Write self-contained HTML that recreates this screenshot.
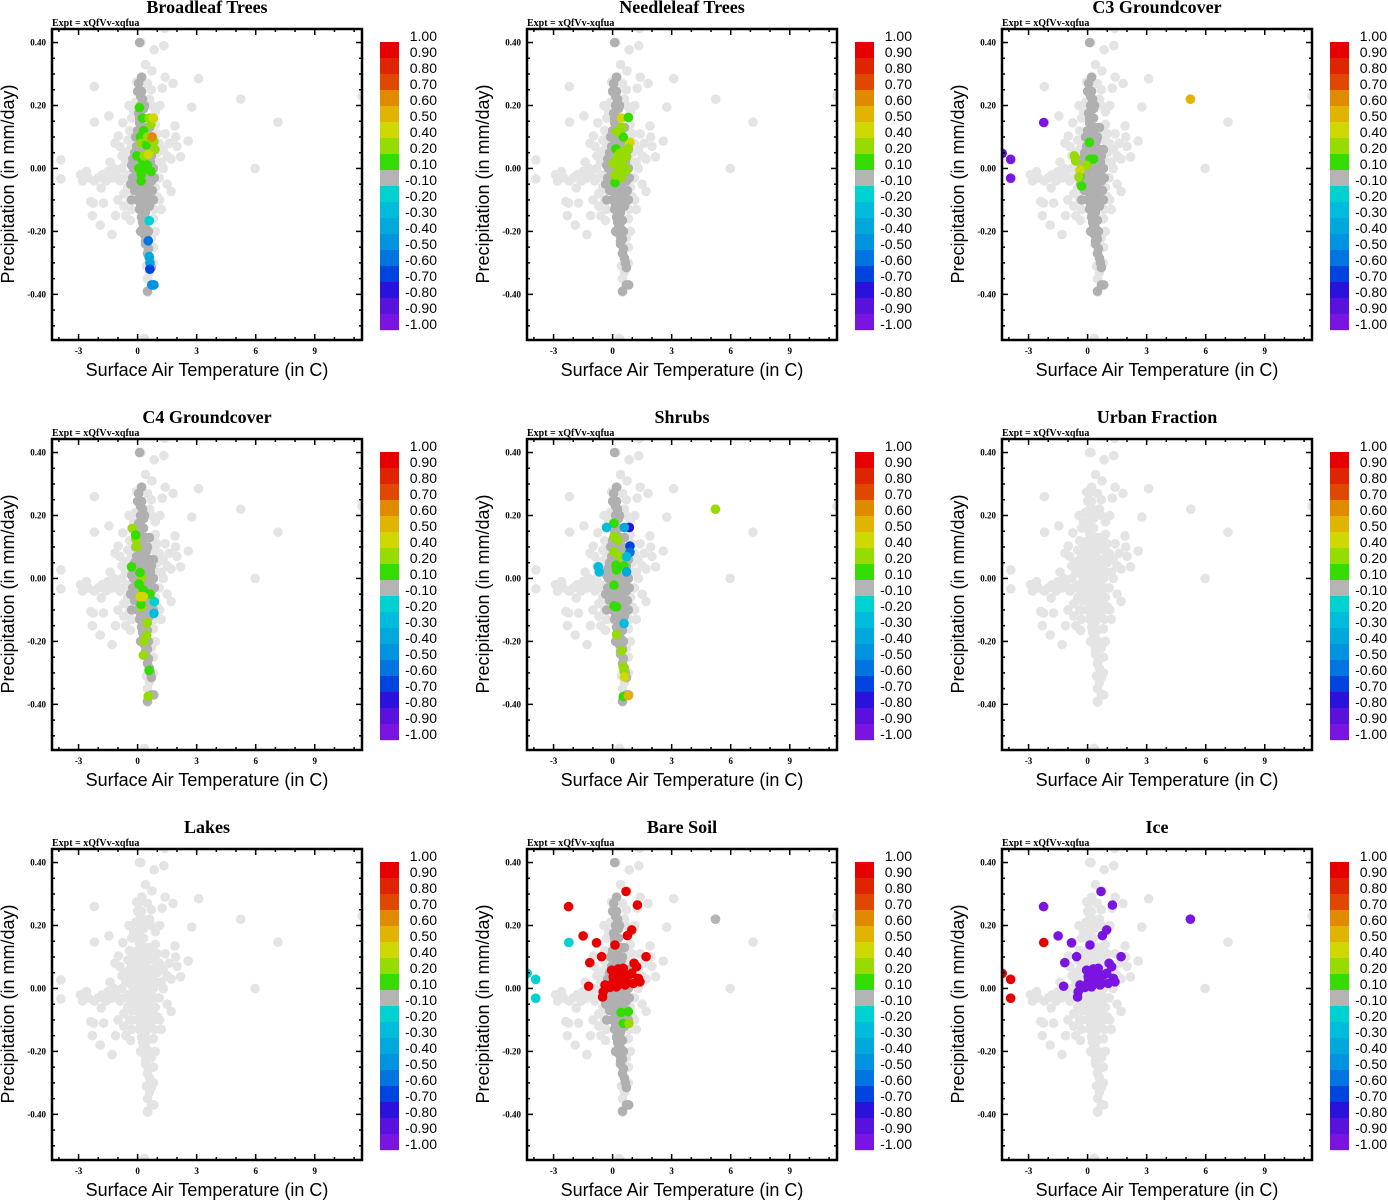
<!DOCTYPE html>
<html><head><meta charset="utf-8"><title>Land cover correlation scatter plots</title>
<style>body{margin:0;background:#fff}svg{display:block}</style></head>
<body>
<svg id="chart" width="1388" height="1200" viewBox="0 0 1388 1200" xmlns="http://www.w3.org/2000/svg"></svg>
<script>
const panelTitles = ["Broadleaf Trees","Needleleaf Trees","C3 Groundcover","C4 Groundcover","Shrubs","Urban Fraction","Lakes","Bare Soil","Ice"];
const xTicks = [-3,0,3,6,9];
const yTicks = [0.4,0.2,0,-0.2,-0.4];
const yTickLabels = ["0.40","0.20","0.00","-0.20","-0.40"];
const cbarLabels = ["1.00","0.90","0.80","0.70","0.60","0.50","0.40","0.20","0.10","-0.10","-0.20","-0.30","-0.40","-0.50","-0.60","-0.70","-0.80","-0.90","-1.00"];
const cbarColors = ["#e60000","#de2400","#e04800","#e08a00","#e0b400","#cfd800","#96dc00","#34dc00","#b4b4b4","#00d2d2","#00bcdc","#00a8dc","#0094e0","#0074e0","#0044e0","#2a12dc","#5812dc","#7a14e0"];
const cbarLevels = [1.0,0.9,0.8,0.7,0.6,0.5,0.4,0.2,0.1,-0.1,-0.2,-0.3,-0.4,-0.5,-0.6,-0.7,-0.8,-0.9,-1.0];
// background cloud: [temperature, precipitation]
const cloudPts = [[0.17,0.40],[1.33,0.39],[0.84,0.377],[0.73,0.31],[0.21,0.29],[-0.05,0.275],[1.4,0.29],[1.8,0.27],[3.1,0.285],[-2.2,0.26],[1.25,0.255],[0.7,0.25],[5.24,0.22],[2.75,0.195],[-0.44,0.2],[1.13,0.2],[-1.46,0.167],[-2.19,0.147],[-0.75,0.145],[7.13,0.147],[1.9,0.135],[-0.98,0.103],[1.93,0.1],[-1.15,0.08],[2.57,0.087],[2.0,0.07],[2.18,0.037],[-3.9,0.027],[-3.9,-0.033],[-4.5,0.05],[5.97,0.0],[1.7,-0.073],[-1.85,-0.062],[-2.38,-0.105],[-2.24,-0.11],[-1.73,-0.11],[-1.0,-0.1],[1.12,-0.1],[-0.7,-0.12],[-1.12,-0.15],[-2.3,-0.15],[-0.36,-0.165],[-1.9,-0.18],[-1.3,-0.21],[0.51,-0.393],[0.77,-0.37],[0.34,-0.54],[1.37,0.445],[11.4,0.23],
[-2.9,-0.02],[-2.8,-0.04],[-2.5,-0.03],[-2.2,-0.04],[-2.0,-0.03],[-1.8,-0.02],[-1.6,-0.04],[-1.5,-0.01],[-1.3,-0.03],[-1.2,0.0],[-1.1,-0.02],[-0.9,-0.04],[-0.8,0.0],[-0.7,-0.03],[-1.4,0.02],[-2.6,-0.01],
[-0.6,0.05],[-0.5,0.09],[-0.4,0.12],[-0.3,0.16],[-0.2,0.18],[-0.6,0.02],[-0.8,0.04],[-0.9,0.07],[-0.5,-0.06],[-0.7,-0.08],[-0.4,-0.1],[-0.3,-0.13],[-0.6,-0.15],
[0.9,0.14],[1.0,0.11],[1.1,0.08],[1.3,0.06],[1.5,0.04],[1.2,0.02],[1.6,0.08],[1.4,0.11],[0.9,0.18],[1.0,0.05],[1.3,0.0],[1.1,-0.03],[0.9,-0.06],[1.0,-0.09],[1.2,-0.13],[0.8,-0.16],[0.9,-0.2],[1.5,-0.05],[1.7,0.03],[0.6,0.22],[0.5,0.27],[0.4,0.33],
[0.7,-0.22],[0.8,-0.25],[0.6,-0.33],[0.8,-0.3],[0.5,-0.35],[0.45,-0.31],
[-0.3,0.08],[-0.2,0.11],[-0.35,0.03],[-0.45,-0.02],[-0.3,-0.07],[0.8,0.09],[0.8,0.12],[0.95,0.02],[0.75,-0.1],[0.7,0.2],[-0.1,0.21],[-0.4,0.06],[0.85,-0.13]];
// central column: [temperature, precipitation]
const corePts = [[0.1,0.40],[0.05,0.27],[0.2,0.29],[0.0,0.245],[0.2,0.245],[0.25,0.22],[0.15,0.2],[0.3,0.19],[0.05,0.175],[0.3,0.16],[0.1,0.145],[0.4,0.13],[0.0,0.12],[0.25,0.115],[0.5,0.1],[0.1,0.095],[0.4,0.08],[-0.05,0.07],[0.2,0.065],[0.6,0.06],[-0.15,0.05],[0.35,0.045],[0.7,0.04],[-0.25,0.03],[0.1,0.025],[0.5,0.02],[-0.1,0.005],[0.3,0.0],[0.8,0.0],[0.0,-0.015],[0.6,-0.02],[-0.25,-0.03],[0.2,-0.035],[0.5,-0.045],[-0.05,-0.055],[0.3,-0.065],[0.75,-0.07],[0.1,-0.08],[0.5,-0.09],[0.0,-0.1],[0.3,-0.11],[0.6,-0.12],[0.1,-0.13],[0.4,-0.14],[0.2,-0.155],[0.5,-0.165],[0.3,-0.18],[0.45,-0.195],[0.35,-0.21],[0.5,-0.225],[0.4,-0.24],[0.55,-0.255],[0.5,-0.27],[0.6,-0.285],[0.65,-0.3],[0.7,-0.315],[0.7,-0.37],[0.82,-0.37],[0.5,-0.39],
[0.15,0.23],[0.35,0.2],[0.1,0.16],[0.3,0.13],[0.15,0.11],[0.45,0.09],[0.25,0.08],[0.05,0.05],[0.5,0.05],[0.2,0.03],[0.65,0.02],[0.4,0.01],[-0.2,0.0],[0.15,-0.005],[0.45,-0.01],[0.7,-0.04],[0.1,-0.045],[0.35,-0.05],[-0.15,-0.07],[0.55,-0.07],[0.2,-0.09],[0.4,-0.1],[0.15,-0.115],[0.45,-0.125],[0.25,-0.14],[0.35,-0.16],[0.25,-0.17],[0.4,-0.19],[0.3,-0.2],[0.45,-0.215],[0.4,-0.23],
[-0.3,0.01],[-0.35,-0.05],[-0.3,-0.1],[0.8,0.06],[0.85,-0.03],[0.8,-0.1],[-0.1,0.1],[0.6,0.13],[0.55,-0.2],[0.15,-0.2]];
// coloured points per panel: [temperature, precipitation, value]
const ptsBroadleaf = [[0.09,0.193,0.15],[0.25,0.16,0.15],[0.3,0.12,0.15],[0.14,0.10,0.15],[0.44,0.1,0.15],[0.18,0.08,0.3],[0.44,0.075,0.15],[-0.05,0.04,0.15],[0.25,0.025,0.15],[0.06,0.0,0.15],[0.37,0.0,0.15],[0.68,-0.01,0.15],[0.18,-0.02,0.15],[0.18,-0.04,0.15],[0.5,0.01,0.15],[0.67,0.14,0.3],[0.59,0.16,0.3],[0.83,0.085,0.3],[0.88,0.06,0.3],[0.5,0.1,0.3],[0.33,0.04,0.3],[0.8,0.16,0.45],[0.55,0.045,0.45],[0.74,0.10,0.65],[0.59,-0.166,-0.15],[0.54,-0.23,-0.55],[0.59,-0.28,-0.35],[0.62,-0.3,-0.35],[0.62,-0.32,-0.65],[0.72,-0.37,-0.45],[0.83,-0.37,-0.45]];
const ptsNeedleleaf = [[0.46,0.16,0.45],[0.88,0.083,0.45],[0.8,0.162,0.15],[0.54,0.1,0.15],[0.17,0.062,0.15],[0.12,-0.045,0.15],[0.2,0.117,0.3],[0.46,0.13,0.3],[0.37,0.048,0.3],[0.63,0.058,0.3],[0.71,0.037,0.3],[0.2,0.027,0.3],[0.46,0.021,0.3],[0.03,0.016,0.3],[0.54,0.005,0.3],[0.29,-0.005,0.3],[0.71,-0.005,0.3],[0.12,-0.021,0.3],[0.46,-0.027,0.3],[0.29,0.042,0.3],[0.8,0.064,0.3]];
const ptsC3 = [[-2.23,0.146,-0.95],[-3.91,0.029,-0.95],[-3.91,-0.031,-0.95],[-4.34,0.048,-0.85],[5.22,0.22,0.55],[0.09,0.083,0.15],[0.12,0.029,0.15],[0.3,0.03,0.15],[-0.31,-0.056,0.15],[-0.39,-0.027,0.15],[-0.68,0.04,0.3],[-0.61,0.024,0.3],[-0.05,0.01,0.3],[-0.39,-0.005,0.45],[-0.44,-0.027,0.3]];
const ptsC4 = [[0.85,-0.074,-0.15],[0.83,-0.111,-0.25],[-0.26,0.159,0.3],[-0.09,0.125,0.3],[-0.05,0.1,0.3],[0.2,0.002,0.3],[0.2,-0.09,0.3],[0.49,-0.141,0.3],[0.46,-0.18,0.3],[0.32,-0.2,0.3],[0.29,-0.244,0.3],[0.54,-0.374,0.3],[-0.1,0.138,0.15],[-0.31,0.037,0.15],[0.12,0.019,0.15],[0.07,-0.018,0.15],[0.29,-0.037,0.15],[0.63,-0.05,0.15],[0.17,-0.082,0.15],[0.58,-0.292,0.15],[0.12,-0.058,0.45],[0.29,-0.058,0.45]];
const ptsShrubs = [[5.22,0.22,0.3],[0.07,0.133,0.3],[0.26,0.122,0.3],[0.07,0.085,0.3],[0.34,0.069,0.3],[0.2,-0.178,0.3],[0.46,-0.23,0.3],[0.54,-0.281,0.3],[0.58,-0.294,0.3],[0.07,0.175,0.15],[0.17,0.042,0.15],[0.58,0.04,0.15],[0.2,0.027,0.15],[0.07,-0.021,0.15],[0.07,-0.087,0.15],[0.2,-0.09,0.15],[0.54,-0.375,0.15],[0.6,-0.313,0.45],[0.8,-0.372,0.55],[0.85,0.162,-0.75],[0.88,0.103,-0.65],[0.88,0.083,-0.55],[0.6,0.162,-0.35],[0.71,0.069,-0.25],[-0.73,0.037,-0.25],[-0.68,0.021,-0.25],[0.71,0.021,-0.35],[0.58,-0.143,-0.25],[-0.31,0.162,-0.25]];
const ptsUrban = [];
const ptsLakes = [];
const ptsBareSoil = [[-2.24,0.26,0.95],[0.68,0.308,0.95],[1.26,0.265,0.95],[0.97,0.186,0.95],[0.75,0.168,0.95],[-1.5,0.167,0.95],[-0.82,0.145,0.95],[0.12,0.138,0.95],[-0.56,0.101,0.95],[-1.16,0.082,0.95],[1.7,0.101,0.95],[1.09,0.08,0.95],[1.22,0.069,0.95],[-1.22,0.007,0.95],[-0.05,0.058,0.95],[0.29,0.062,0.95],[0.54,0.064,0.95],[0.12,0.042,0.95],[0.46,0.039,0.95],[0.8,0.042,0.95],[0.97,0.048,0.95],[1.31,0.032,0.95],[1.39,0.021,0.95],[0.03,0.021,0.95],[0.37,0.016,0.95],[0.71,0.016,0.95],[1.05,0.016,0.95],[-0.39,0.011,0.95],[-0.14,0.003,0.95],[0.2,0.005,0.95],[0.63,0.011,0.95],[-0.48,-0.011,0.95],[-0.51,-0.027,0.95],[0.03,0.037,0.95],[-2.23,0.146,-0.15],[-3.91,0.029,-0.15],[-3.91,-0.031,-0.15],[-4.34,0.048,-0.15],[0.43,-0.076,0.15],[0.8,-0.074,0.15],[0.54,-0.111,0.15],[0.83,-0.111,0.3],[5.22,0.22,0.0]];
const ptsIce = [[-2.24,0.26,-0.95],[0.68,0.308,-0.95],[1.26,0.265,-0.95],[0.97,0.186,-0.95],[0.75,0.168,-0.95],[-1.5,0.167,-0.95],[-0.82,0.145,-0.95],[0.12,0.138,-0.95],[-0.56,0.101,-0.95],[-1.16,0.082,-0.95],[1.7,0.101,-0.95],[1.09,0.08,-0.95],[1.22,0.069,-0.95],[-1.22,0.007,-0.95],[-0.05,0.058,-0.95],[0.29,0.062,-0.95],[0.54,0.064,-0.95],[0.12,0.042,-0.95],[0.46,0.039,-0.95],[0.8,0.042,-0.95],[0.97,0.048,-0.95],[1.31,0.032,-0.95],[1.39,0.021,-0.95],[0.03,0.021,-0.95],[0.37,0.016,-0.95],[0.71,0.016,-0.95],[1.05,0.016,-0.95],[-0.39,0.011,-0.95],[-0.14,0.003,-0.95],[0.2,0.005,-0.95],[0.63,0.011,-0.95],[-0.48,-0.011,-0.95],[-0.51,-0.027,-0.95],[0.03,0.037,-0.95],[-2.23,0.146,0.95],[-3.91,0.029,0.95],[-3.91,-0.031,0.95],[-4.34,0.048,0.95],[5.22,0.22,-0.95]];
const panelPoints = [ptsBroadleaf,ptsNeedleleaf,ptsC3,ptsC4,ptsShrubs,ptsUrban,ptsLakes,ptsBareSoil,ptsIce];
const coreActive = [true,true,true,true,true,false,false,true,false];

const NS = "http://www.w3.org/2000/svg";
const svg = document.getElementById("chart");
const XMIN=-4.35, XMAX=11.4, YMIN=-0.545, YMAX=0.443;
const BOXW=310, BOXH=311;
function mk(tag, attrs, parent){const e=document.createElementNS(NS,tag);for(const k in attrs)e.setAttribute(k,attrs[k]);(parent||svg).appendChild(e);return e;}
function colorFor(v){
  if (Math.abs(v) < 0.1) return "#b4b4b4";
  for (let i=0;i<cbarLevels.length-1;i++){ if (v<=cbarLevels[i] && v>=cbarLevels[i+1]) return cbarColors[i]; }
  return v>0?cbarColors[0]:cbarColors[17];
}
panelTitles.forEach((title, idx) => {
  const ox = 52 + (idx%3)*475, oy = 29 + Math.floor(idx/3)*410;
  const xs = t => ox + (t - XMIN)/(XMAX - XMIN)*BOXW;
  const ys = p => oy + (YMAX - p)/(YMAX - YMIN)*BOXH;
  const g = mk("g", {});
  
  
  const tt = mk("text", {x: ox+155, y: oy-16, "text-anchor":"middle", "font-family":"Liberation Serif, serif", "font-size":"18", "font-weight":"bold"}, g);
  tt.textContent = title;
  
  
  const ex = mk("text", {x: ox, y: oy-3, "font-family":"Liberation Serif, serif", "font-size":"10", "font-weight":"bold"}, g);
  ex.textContent = "Expt = xQfVv-xqfua";
  
  
  const clip = mk("clipPath", {id:"clip"+idx}, g);
  mk("rect", {x:ox, y:oy, width:BOXW, height:BOXH}, clip);
  const pg = mk("g", {"clip-path":"url(#clip"+idx+")"}, g);
  
  
  const dot = (t,p,col,name) => {
    const c = mk("circle", {cx: xs(t), cy: ys(p), r: 4.5, fill: col, stroke: col, "stroke-width": 0.6}, pg);
    
    
  };
  cloudPts.forEach(d => dot(d[0], d[1], "#e4e4e4", "background-point"));
  corePts.forEach(d => dot(d[0], d[1], coreActive[idx] ? "#b0b0b0" : "#e4e4e4", "core-point"));
  panelPoints[idx].forEach(d => dot(d[0], d[1], colorFor(d[2]), "coloured-point"));
  const box = mk("rect", {x:ox, y:oy, width:BOXW, height:BOXH, fill:"none", stroke:"#000", "stroke-width":2.5}, g);
  
  
  for (let t=-4; t<=11; t++){
    const L = xTicks.includes(t) ? 6 : 3;
    mk("line", {x1:xs(t), x2:xs(t), y1:oy+BOXH, y2:oy+BOXH-L, stroke:"#000","stroke-width":1.5}, g);
    mk("line", {x1:xs(t), x2:xs(t), y1:oy, y2:oy+L, stroke:"#000","stroke-width":1.5}, g);
  }
  for (let k=-10; k<=8; k++){
    const p = k*0.05; const L = (k%4===0) ? 6 : 3;
    mk("line", {x1:ox, x2:ox+L, y1:ys(p), y2:ys(p), stroke:"#000","stroke-width":1.5}, g);
    mk("line", {x1:ox+BOXW, x2:ox+BOXW-L, y1:ys(p), y2:ys(p), stroke:"#000","stroke-width":1.5}, g);
  }
  xTicks.forEach(t => {
    const l = mk("text", {x: xs(t), y: oy+BOXH+14, "text-anchor":"middle", "font-family":"Liberation Serif, serif", "font-size":"9", "font-weight":"bold"}, g);
    l.textContent = String(t);
    
    
  });
  yTicks.forEach((p,i) => {
    const l = mk("text", {x: ox-6, y: ys(p)+3, "text-anchor":"end", "font-family":"Liberation Serif, serif", "font-size":"9", "font-weight":"bold"}, g);
    l.textContent = yTickLabels[i];
    
    
  });
  const xt = mk("text", {x: ox+155, y: oy+347, "text-anchor":"middle", "font-family":"Liberation Sans, sans-serif", "font-size":"18"}, g);
  xt.textContent = "Surface Air Temperature (in C)";
  
  
  const yt = mk("text", {x: 0, y: 0, "text-anchor":"middle", "font-family":"Liberation Sans, sans-serif", "font-size":"18", transform:"translate("+(ox-38)+","+(oy+155)+") rotate(-90)"}, g);
  yt.textContent = "Precipitation (in mm/day)";
  
  
  const cb = mk("g", {}, g);
  
  
  const cbx = ox+328, cby = oy+13;
  cbarColors.forEach((c,i) => {
    const r = mk("rect", {x:cbx, y:cby+i*16, width:19, height:16.2, fill:c}, cb);
    
    
  });
  cbarLabels.forEach((s,i) => {
    const l = mk("text", {x: ox+385, y: cby+i*16-1, "text-anchor":"end", "font-family":"Liberation Sans, sans-serif", "font-size":"14"}, cb);
    l.textContent = s;
    
    
  });
});
</script>
</body></html>
